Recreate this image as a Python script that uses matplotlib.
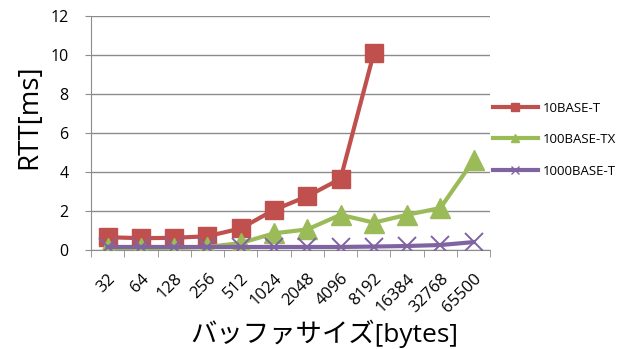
import matplotlib
matplotlib.use('Agg')
import matplotlib.pyplot as plt
from matplotlib.lines import Line2D

plt.rcParams['font.family'] = ['Open Sans', 'Noto Sans CJK JP', 'DejaVu Sans']

# data
sizes = ['32', '64', '128', '256', '512', '1024', '2048', '4096',
         '8192', '16384', '32768', '65500']
rtt_10 = [0.65, 0.6, 0.62, 0.7, 1.1, 2.05, 2.75, 3.65, 10.1]
rtt_100 = [0.1, 0.1, 0.1, 0.15, 0.35, 0.85, 1.05, 1.8, 1.4, 1.8, 2.15, 4.6]
rtt_1000 = [0.15, 0.15, 0.15, 0.15, 0.15, 0.15, 0.15, 0.15, 0.17, 0.2, 0.25, 0.4]
series_names = ['10BASE-T', '100BASE-TX', '1000BASE-T']
colors = ['#c0504d', '#9bbb59', '#8064a2']

fig = plt.figure(figsize=(6.23, 3.49), dpi=100)
ax = fig.add_axes([0.146, 0.284, 0.641, 0.67])

x = list(range(len(sizes)))
ax.plot(x[:len(rtt_10)], rtt_10, color=colors[0], lw=3, marker='s', ms=13, zorder=3)
ax.plot(x, rtt_100, color=colors[1], lw=3, marker='^', ms=14, zorder=3)
ax.plot(x, rtt_1000, color=colors[2], lw=3, marker='x', ms=12.5, mew=1.4, zorder=4)

ax.set_xlim(-0.5, len(sizes) - 0.5)
ax.set_ylim(0, 12)
ax.set_yticks(range(0, 13, 2))
ax.grid(axis='y', color='#8c8c8c', lw=1)
ax.set_axisbelow(True)

ax.set_xticks(x)
ax.set_xticklabels(sizes, rotation=45, ha='right', rotation_mode='anchor', fontsize=12)
ax.set_xticks([i - 0.5 for i in range(len(sizes) + 1)], minor=True)
ax.tick_params(axis='x', which='major', length=0, pad=15)
ax.tick_params(axis='x', which='minor', length=5, color='#8c8c8c', direction='out')
ax.tick_params(axis='y', length=4, color='#8c8c8c', labelsize=11.5, direction='out', pad=12)

for side in ['top', 'right']:
    ax.spines[side].set_visible(False)
for side in ['left', 'bottom']:
    ax.spines[side].set_color('#8c8c8c')

ax.set_ylabel('RTT[ms]', fontsize=20)
ax.yaxis.set_label_coords(-0.12, 0.57)
ax.set_xlabel('バッファサイズ[bytes]', fontsize=19)
ax.xaxis.set_label_coords(0.585, -0.3)

handles = [
    Line2D([], [], color=colors[0], lw=3, marker='s', ms=6),
    Line2D([], [], color=colors[1], lw=3, marker='^', ms=6),
    Line2D([], [], color=colors[2], lw=3, marker='x', ms=6),
]
fig.legend(handles, series_names, loc='center left', bbox_to_anchor=(0.772, 0.6),
           frameon=False, fontsize=9.5, handlelength=3.4, labelspacing=1.4,
           handletextpad=0.4)

fig.savefig('out.png', dpi=100)
